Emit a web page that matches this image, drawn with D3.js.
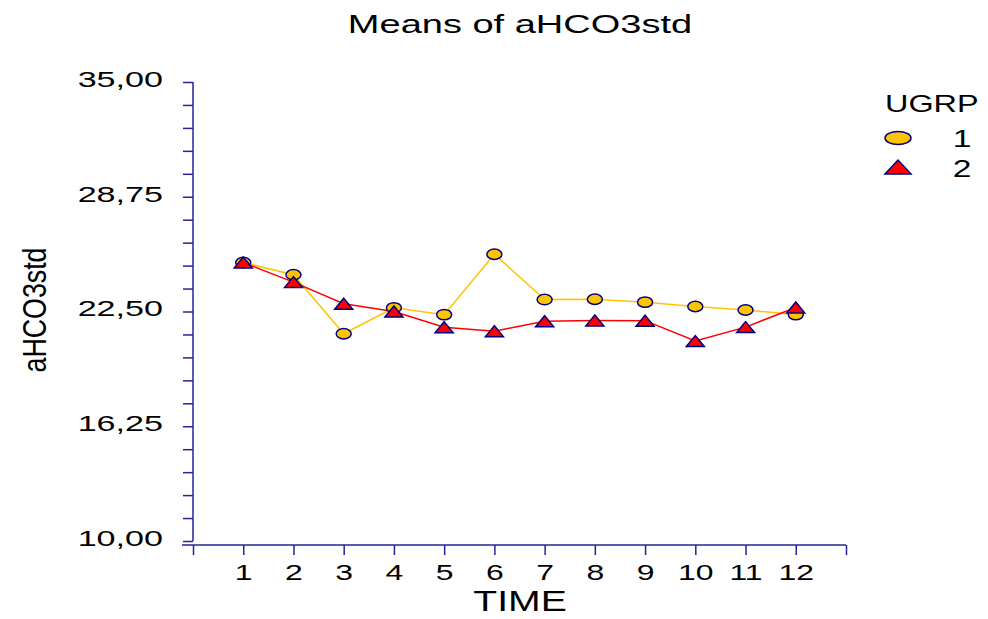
<!DOCTYPE html>
<html><head><meta charset="utf-8">
<script src="https://cdn.jsdelivr.net/npm/d3@7"></script>
<style>body{margin:0;background:#fff}svg{display:block}text{font-family:"Liberation Sans",Arial,sans-serif;fill:#000}</style>
</head><body><svg id="c" width="988" height="619"></svg>
<script>
const times = [1,2,3,4,5,6,7,8,9,10,11,12];
const group1 = [25.17,24.50,21.29,22.70,22.33,25.62,23.15,23.17,23.01,22.77,22.58,22.33];
const group2 = [25.17,24.10,22.92,22.50,21.64,21.43,21.97,22.01,22.00,20.89,21.65,22.72];
const yTicksMajor = [10,16.25,22.5,28.75,35];
const seriesNames = ["1","2"];
const legendTitle = "UGRP";

const svg = d3.select("#c");
const navy = "#24249a";
const x = d3.scaleLinear().domain([0,13]).range([193,846]);
const y = d3.scaleLinear().domain([10,35]).range([541,82]);

function stretch(sel, f){ sel.each(function(){ const L=this.getComputedTextLength(); d3.select(this).attr("textLength",L*f).attr("lengthAdjust","spacingAndGlyphs"); }); }

// Y axis
const yMinor = d3.range(0,21).map(i=>10+i*1.25);
const ya = svg.append("g").attr("transform","translate(193,0)")
  .call(d3.axisLeft(y).tickValues(yMinor).tickSize(10).tickPadding(30)
     .tickFormat(d=> yTicksMajor.some(t=>Math.abs(t-d)<1e-6) ? d3.format(".2f")(d).replace(".",",") : ""));
ya.select(".domain").attr("stroke",navy).attr("stroke-width",1.5).attr("d","M0,82V541");
ya.selectAll(".tick line").attr("stroke",navy).attr("stroke-width",1.5);
ya.selectAll(".tick text").attr("font-size",22).attr("dy","0.2em").attr("x",-30).attr("fill","#000");
stretch(ya.selectAll(".tick text"),1.55);

// X axis
const xa = svg.append("g").attr("transform","translate(0,545)")
  .call(d3.axisBottom(x).tickValues(d3.range(0,14)).tickSize(10).tickPadding(9)
     .tickFormat(d=> (d>=1 && d<=12) ? String(times[d-1]) : ""));
xa.select(".domain").attr("stroke",navy).attr("stroke-width",1.5).attr("d","M182,0H846");
xa.selectAll(".tick line").attr("stroke",navy).attr("stroke-width",1.5);
xa.selectAll(".tick text").attr("font-size",22).attr("fill","#000");
stretch(xa.selectAll(".tick text"),1.45);

// Titles
const t = svg.append("text").attr("x",520).attr("y",33).attr("text-anchor","middle").attr("font-size",25).text("Means of aHCO3std");
stretch(t,1.52);
const xt = svg.append("text").attr("x",520).attr("y",611).attr("text-anchor","middle").attr("font-size",29).text("TIME");
stretch(xt,1.35);
const yt = svg.append("text").attr("transform","translate(46,310) rotate(-90)").attr("text-anchor","middle").attr("font-size",34).text("aHCO3std");
yt.attr("textLength",125).attr("lengthAdjust","spacingAndGlyphs");

// Lines
const line = d3.line().x((d,i)=>x(times[i])).y(d=>y(d));
svg.append("path").attr("d",line(group1)).attr("fill","none").attr("stroke","#FFC400").attr("stroke-width",1.5);
svg.append("path").attr("d",line(group2)).attr("fill","none").attr("stroke","#FF0000").attr("stroke-width",1.5);

// Markers
svg.append("g").selectAll("ellipse").data(group1).join("ellipse")
  .attr("cx",(d,i)=>x(times[i])).attr("cy",d=>y(d)).attr("rx",7.5).attr("ry",5.2)
  .attr("fill","#FFC400").attr("stroke","#000080").attr("stroke-width",1.5);
const tri = (cx,cy,w,h)=>`M${cx-w/2},${cy+h/2}L${cx},${cy-h/2}L${cx+w/2},${cy+h/2}Z`;
svg.append("g").selectAll("path").data(group2).join("path")
  .attr("d",(d,i)=>tri(x(times[i]),y(d),18,11))
  .attr("fill","#FF0000").attr("stroke","#000080").attr("stroke-width",1.5);

// Legend
const lt = svg.append("text").attr("x",885).attr("y",112).attr("font-size",24).text(legendTitle);
stretch(lt,1.35);
svg.append("ellipse").attr("cx",898).attr("cy",138).attr("rx",13).attr("ry",6.5)
  .attr("fill","#FFC400").attr("stroke","#000080").attr("stroke-width",1.5);
svg.append("path").attr("d",tri(898,167,26,14)).attr("fill","#FF0000").attr("stroke","#000080").attr("stroke-width",1.5);
const l1 = svg.append("text").attr("x",962).attr("y",147).attr("text-anchor","middle").attr("font-size",24).text(seriesNames[0]);
const l2 = svg.append("text").attr("x",962).attr("y",177).attr("text-anchor","middle").attr("font-size",24).text(seriesNames[1]);
stretch(l1,1.4); stretch(l2,1.4);
</script></body></html>
